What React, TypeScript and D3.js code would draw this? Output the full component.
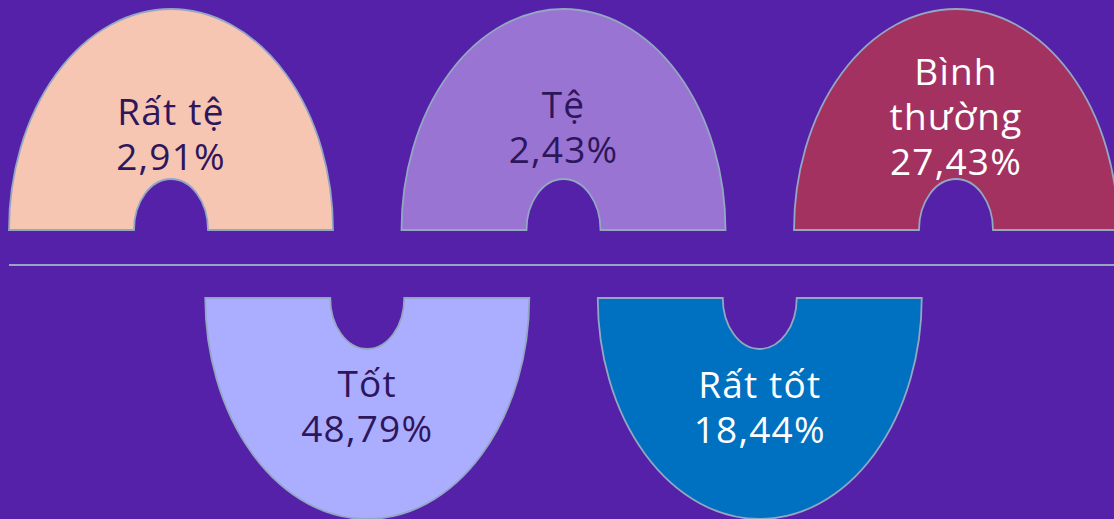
import React from "react";
import * as d3 from "d3";

const categories = ["Rất tệ", "Tệ", "Bình thường", "Tốt", "Rất tốt"];
const labelLines = [["Rất tệ"], ["Tệ"], ["Bình", "thường"], ["Tốt"], ["Rất tốt"]];
const values = [2.91, 2.43, 27.43, 48.79, 18.44];
const fills = ["#F7C6B3", "#9974D3", "#A33261", "#ABAEFF", "#0070C0"];
const textColors = ["#2E165C", "#2E165C", "#FFFFFF", "#2E165C", "#FFFFFF"];
// order along x: 0 top, 1 bottom, 2 top, 3 bottom, 4 top
const slotOrder = [0, 2, 4, 1, 3];

const W = 1114;
const H = 519;
const BG = "#5421A8";
const STROKE = "#93A6C2";

export default function App() {
  const x = d3.scalePoint<number>().domain([0, 1, 2, 3, 4]).range([171, 956]);
  const rx = 162;
  const ry = 221;
  const irx = 37;
  const iry = 51;
  const topBase = 230;
  const bottomBase = 298;
  const fmt = (v: number) => d3.format(".2f")(v).replace(".", ",") + "%";

  // label baseline for first line, per item
  const firstBaseline = [125, 118, 85, 397, 398];
  const lineH = 45;

  const arch = (cx: number, up: boolean) => {
    const base = up ? topBase : bottomBase;
    const p = d3.path();
    const so = up ? 1 : 0;
    const si = up ? 0 : 1;
    p.moveTo(cx - rx, base);
    const s1 = `A${rx},${ry} 0 0 ${so} ${cx + rx},${base}`;
    const s2 = `L${cx + irx},${base} A${irx},${iry} 0 0 ${si} ${cx - irx},${base} Z`;
    return p.toString() + s1 + s2;
  };

  return (
    <svg
      width={W}
      height={H}
      style={{ position: "absolute", left: 0, top: 0, display: "block" }}
      fontFamily="'Open Sans', sans-serif"
    >
      <rect x={0} y={0} width={W} height={H} fill={BG} />
      <line x1={9} x2={W} y1={265} y2={265} stroke={STROKE} strokeWidth={2} />
      {categories.map((n, i) => {
        const slot = slotOrder[i];
        const up = slot % 2 === 0;
        const cx = x(slot) as number;
        const lines = [...labelLines[i], fmt(values[i])];
        return (
          <g key={n}>
            <path d={arch(cx, up)} fill={fills[i]} stroke={STROKE} strokeWidth={1.8} />
            <text
              textAnchor="middle"
              fill={textColors[i]}
              fontSize={37}
              fontWeight={400}
              letterSpacing={1.2}
            >
              {lines.map((t, j) => (
                <tspan key={j} x={cx} y={firstBaseline[i] + j * lineH}>
                  {t}
                </tspan>
              ))}
            </text>
          </g>
        );
      })}
    </svg>
  );
}
